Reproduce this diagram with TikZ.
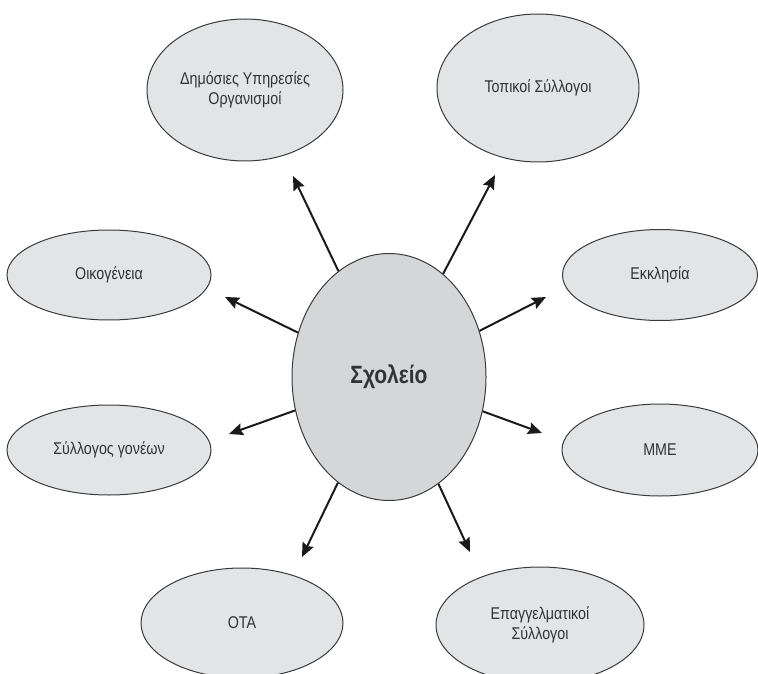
\documentclass[tikz,border=0pt]{standalone}
\usepackage{fontspec}
\setmainfont{Liberation Sans}[FakeStretch=0.84]
\usepackage{tikz}
\usetikzlibrary{shapes.geometric,arrows.meta}
\definecolor{rimgray}{HTML}{3A3A3A}
\definecolor{outerfill}{HTML}{E3E4E6}
\definecolor{hubfill}{HTML}{D5D6D8}
\definecolor{labelgray}{HTML}{333333}
\definecolor{arrowblack}{HTML}{1A1A1A}

\begin{document}
\begin{tikzpicture}
		[x=1pt, y=-1pt,
		partner/.style={ellipse, draw=rimgray, line width=1pt, fill=outerfill, inner sep=0pt, text=labelgray, align=center, font=\fontsize{17}{19.5}\selectfont},
		link/.style={draw=arrowblack, line width=2pt, -{Stealth[length=14pt, width=12pt, inset=2pt]}}]
		\useasboundingbox (0,0) rectangle (758,674);
		\node [ellipse, draw=rimgray, line width=1pt, fill=hubfill, inner sep=0pt, minimum width=194pt, minimum height=247pt, text=labelgray, font=\bfseries\fontsize{25}{28}\selectfont](school) at (389,377) {Σχολείο};
		
		\node [partner, minimum width=196pt, minimum height=142pt](dy) at (245,90) {Δημόσιες Υπηρεσίες\\Οργανισμοί};
		\node [partner, minimum width=202pt, minimum height=148pt](ts) at (538,88) {Τοπικοί Σύλλογοι};
		\node [partner, minimum width=204pt, minimum height=90pt](fam) at (109,275) {Οικογένεια};
		\node [partner, minimum width=195pt, minimum height=91pt](ekk) at (660,275) {Εκκλησία};
		\node [partner, minimum width=204pt, minimum height=90pt](sg) at (109,450) {Σύλλογος γονέων};
		\node [partner, minimum width=196pt, minimum height=92pt](mme) at (660,450) {ΜΜΕ};
		\node [partner, minimum width=202pt, minimum height=110pt](ota) at (242,623) {ΟΤΑ};
		\node [partner, minimum width=208pt, minimum height=116pt](es) at (540,625) {Επαγγελματικοί\\Σύλλογοι};
		
		% arrow tips stop short of the outer ellipses
		\foreach \x/\y/\n in {293/176/dy, 495/175/ts, 225/297/fam, 546/297/ekk, 229/434/sg, 542/433/mme, 302/557/ota, 470/552/es}
		\coordinate (tip\n) at (\x,\y);
		
		\foreach \n in {dy, ts, fam, ekk, sg, mme, ota, es}
		\draw [link] (school) -- (tip\n);
\end{tikzpicture}
\end{document}
